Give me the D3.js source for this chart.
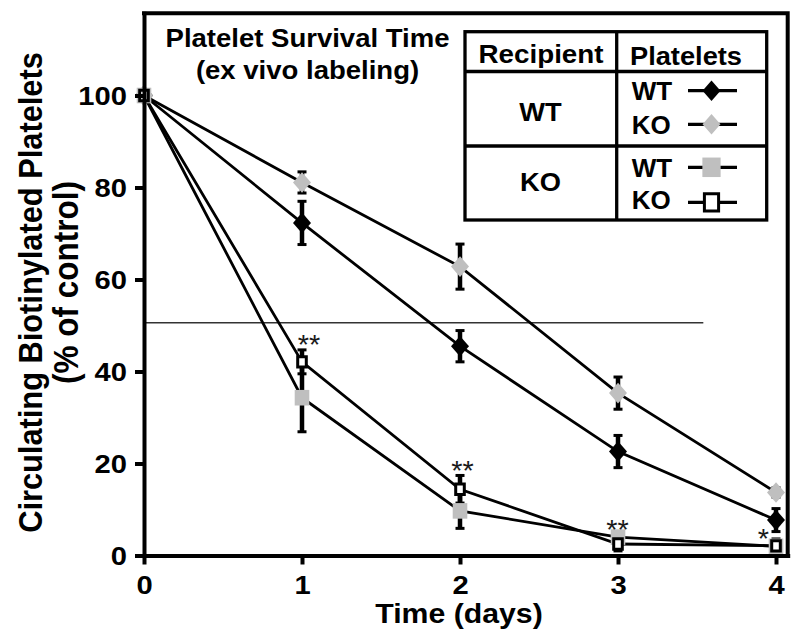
<!DOCTYPE html>
<html>
<head>
<meta charset="utf-8">
<script src="https://cdn.jsdelivr.net/npm/d3@7/dist/d3.min.js"></script>
<style>
  html, body { margin: 0; padding: 0; background: #fff; }
  svg { display: block; }
  text { font-family: "Liberation Sans", Arial, sans-serif; }
</style>
</head>
<body>
<svg id="chart" width="800" height="642"></svg>
<script>
// ---------------- data ----------------
const days = [0, 1, 2, 3, 4];
const xTicks = [0, 1, 2, 3, 4];
const yTicks = [0, 20, 40, 60, 80, 100];

// Recipient WT, platelets WT (black diamond)
const wtWtMean = [100, 72.3, 45.5, 22.6, 7.7];
const wtWtErr  = [0, 4.7, 3.4, 3.5, 2.5];
// Recipient WT, platelets KO (gray diamond)
const wtKoMean = [100, 81.1, 62.8, 35.3, 13.7];
const wtKoErr  = [0, 2.3, 4.9, 3.5, 1.0];
// Recipient KO, platelets WT (gray square)
const koWtMean = [100, 34.3, 9.7, 4.0, 2.0];
const koWtErr  = [0, 7.4, 3.8, 1.0, 0.5];
// Recipient KO, platelets KO (open square)
const koKoMean = [100, 42.1, 14.4, 2.5, 2.1];
const koKoErr  = [0, 2.6, 3.0, 1.5, 1.5];

// significance marks (in data units)
const sigLabels = ["**", "**", "**", "*"];
const sigDay    = [1.044, 2.016, 2.997, 3.92];
const sigValue  = [47.2, 19.7, 7.0, 4.96];

// 50% reference line
const refValue = 50.6;
const refDayEnd = 3.54;

const titleLines = ["Platelet Survival Time", "(ex vivo labeling)"];
const yTitleLines = ["Circulating Biotinylated Platelets", "(% of control)"];
const xTitle = "Time (days)";
const legendHeaders = ["Recipient", "Platelets"];
const recipientGroups = ["WT", "KO"];
const plateletTypes = ["WT", "KO"];

// ---------------- chart ----------------
const svg = d3.select("#chart");
const GRAY = "#bfbfbf";

const xMax = 4.074, yMax = 117.9;
const x = d3.scaleLinear().domain([0, xMax]).range([144, 787.7]);
const y = d3.scaleLinear().domain([0, yMax]).range([555.5, 555.5 - yMax * 4.6]);

function htext(g, px, py, str, size, anchor, weight, sx, fill) {
  return g.append("text")
    .attr("transform", `translate(${px},${py}) scale(${sx},1)`)
    .attr("text-anchor", anchor)
    .attr("font-size", size)
    .attr("font-weight", weight)
    .attr("fill", fill || "#000")
    .text(str);
}

// reference line
svg.append("line")
  .attr("x1", x(0)).attr("x2", x(refDayEnd))
  .attr("y1", y(refValue)).attr("y2", y(refValue))
  .attr("stroke", "#333").attr("stroke-width", 1.3);

// series
const series = [
  { mean: wtWtMean, err: wtWtErr, shape: "diamond", fill: "#000", stroke: "none" },
  { mean: wtKoMean, err: wtKoErr, shape: "diamond", fill: GRAY, stroke: "none" },
  { mean: koWtMean, err: koWtErr, shape: "square", fill: GRAY, stroke: "none" },
  { mean: koKoMean, err: koKoErr, shape: "open", fill: "#fff", stroke: "#000" }
];

function markerPath(shape, scale) {
  const s = scale || 1;
  if (shape === "diamond") {
    const w = 9 * s, h = 10.3 * s;
    return `M0,${-h}L${w},0L0,${h}L${-w},0Z`;
  }
  if (shape === "square") {
    const w = 7.3 * s, h = 7.8 * s;
    return `M${-w},${-h}H${w}V${h}H${-w}Z`;
  }
  const w = 4.3 * s, h = 5.2 * s;
  return `M${-w},${-h}H${w}V${h}H${-w}Z`;
}

const line = d3.line().x((d, i) => x(days[i])).y(d => y(d));
series.forEach(s => {
  svg.append("path").attr("d", line(s.mean))
    .attr("fill", "none").attr("stroke", "#000").attr("stroke-width", 2.8);
});

// error bars
series.forEach(s => {
  const g = svg.append("g");
  s.mean.forEach((m, i) => {
    const e = s.err[i];
    if (!e) return;
    const cx = x(days[i]);
    g.append("line").attr("x1", cx).attr("x2", cx)
      .attr("y1", y(m - e)).attr("y2", y(m + e))
      .attr("stroke", "#000").attr("stroke-width", 4.5);
    [m - e, m + e].forEach(v => {
      g.append("line").attr("x1", cx - 4.5).attr("x2", cx + 4.5)
        .attr("y1", y(v)).attr("y2", y(v))
        .attr("stroke", "#000").attr("stroke-width", 3);
    });
  });
});

// markers
series.forEach(s => {
  svg.append("g").selectAll("path").data(s.mean).join("path")
    .attr("transform", (d, i) => `translate(${x(days[i])},${y(d)})`)
    .attr("d", markerPath(s.shape))
    .attr("fill", s.fill)
    .attr("stroke", s.stroke)
    .attr("stroke-width", s.shape === "open" ? 3 : 0);
});

// frame top / right
svg.append("path")
  .attr("d", `M${x(0)},${y(yMax)}H${x(xMax)}V${y(0)}`)
  .attr("fill", "none").attr("stroke", "#000").attr("stroke-width", 4)
  .attr("stroke-linecap", "square");

// axes (drawn over the series, as in the original)
const gy = svg.append("g").attr("transform", `translate(${x(0)},0)`)
  .call(d3.axisLeft(y).tickValues(yTicks).tickSize(9).tickSizeOuter(0).tickFormat(d3.format("d")));
const gx = svg.append("g").attr("transform", `translate(0,${y(0)})`)
  .call(d3.axisBottom(x).tickValues(xTicks).tickSize(9).tickSizeOuter(0).tickFormat(d3.format("d")));

[gy, gx].forEach(g => {
  g.select(".domain").attr("stroke", "#000").attr("stroke-width", 4).attr("stroke-linecap", "square");
  g.selectAll(".tick line").attr("stroke", "#000").attr("stroke-width", 4);
  g.selectAll(".tick text").attr("font-family", "Liberation Sans, Arial, sans-serif")
    .attr("font-size", 26.5).attr("font-weight", "bold").attr("fill", "#000");
});
gy.selectAll(".tick text").attr("x", 0).attr("dy", "0.34em")
  .attr("transform", "translate(-17,0) scale(1.1,1)");
gx.selectAll(".tick text").attr("y", 0).attr("dy", null)
  .attr("transform", "translate(0,38.5) scale(1.1,1)");

// significance stars
sigLabels.forEach((lab, i) => {
  htext(svg, x(sigDay[i]), y(sigValue[i]) + 15.5, lab, 27.5, "middle", "normal", 1.05, "#1a1a1a");
});

// title
htext(svg, 307.5, 46.7, titleLines[0], 25.5, "middle", "bold", 1.08);
htext(svg, 307.5, 79, titleLines[1], 25.5, "middle", "bold", 1.08);

// axis titles
htext(svg, 459, 623.3, xTitle, 28, "middle", "bold", 1.08);
svg.append("text")
  .attr("transform", "translate(41.5,292.5) rotate(-90) scale(1,1.09)")
  .attr("text-anchor", "middle").attr("font-size", 30.8).attr("font-weight", "bold")
  .text(yTitleLines[0]);
svg.append("text")
  .attr("transform", "translate(78,282.5) rotate(-90) scale(1,1.09)")
  .attr("text-anchor", "middle").attr("font-size", 31.5).attr("font-weight", "bold")
  .text(yTitleLines[1]);

// legend table
const L = { x0: 465, x1: 766.7, xm: 616.7, y0: 31.7, yh: 71.5, ym: 146, y1: 220 };
const lg = svg.append("g");
lg.append("rect").attr("x", L.x0).attr("y", L.y0)
  .attr("width", L.x1 - L.x0).attr("height", L.y1 - L.y0)
  .attr("fill", "#fff").attr("stroke", "#000").attr("stroke-width", 3.3);
lg.append("line").attr("x1", L.xm).attr("x2", L.xm).attr("y1", L.y0).attr("y2", L.y1)
  .attr("stroke", "#000").attr("stroke-width", 3.3);
[L.yh, L.ym].forEach(yy => lg.append("line").attr("x1", L.x0).attr("x2", L.x1)
  .attr("y1", yy).attr("y2", yy).attr("stroke", "#000").attr("stroke-width", 3.3));

htext(lg, 541, 63.3, legendHeaders[0], 25.5, "middle", "bold", 1.09);
htext(lg, 686, 65.3, legendHeaders[1], 25, "middle", "bold", 1.09);
htext(lg, 540.5, 120.7, recipientGroups[0], 26, "middle", "bold", 1.05);
htext(lg, 540.5, 191, recipientGroups[1], 26, "middle", "bold", 1.05);

const entryBase = [100, 134, 176.7, 209.3];
const entrySym = [90.7, 124.3, 167.3, 202.3];
series.forEach((s, i) => {
  htext(lg, 631.7, entryBase[i], plateletTypes[i % 2], 25, "start", "bold", 1.04);
  lg.append("line").attr("x1", 688).attr("x2", 737)
    .attr("y1", entrySym[i]).attr("y2", entrySym[i])
    .attr("stroke", "#000").attr("stroke-width", 3.3);
  const sc = s.shape === "open" ? 1.65 : (s.shape === "square" ? 1.25 : 1.0);
  lg.append("path").attr("transform", `translate(711.5,${entrySym[i]})`)
    .attr("d", markerPath(s.shape, sc))
    .attr("fill", s.fill).attr("stroke", s.stroke)
    .attr("stroke-width", s.shape === "open" ? 3 : 0);
});
</script>
</body>
</html>
